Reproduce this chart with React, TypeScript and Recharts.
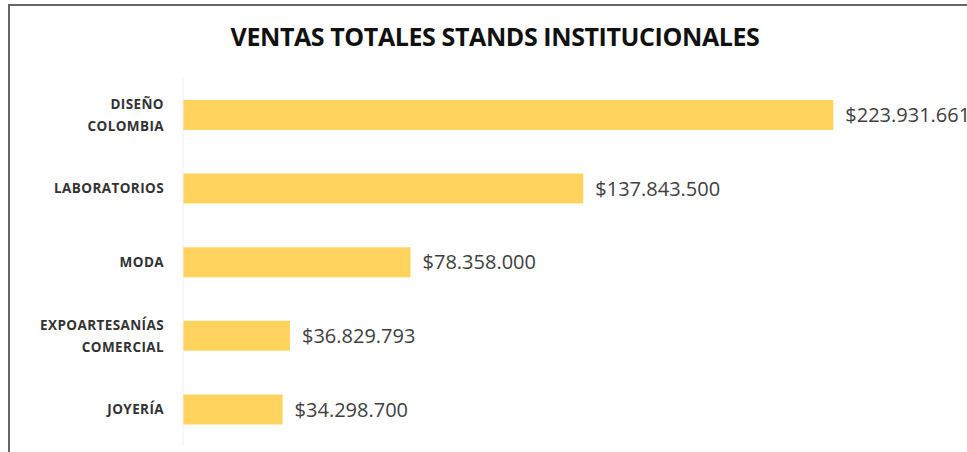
import React from 'react';
import { BarChart, Bar, XAxis, YAxis, LabelList } from 'recharts';

const categories: string[][] = [
  ['DISEÑO', 'COLOMBIA'],
  ['LABORATORIOS'],
  ['MODA'],
  ['EXPOARTESANÍAS', 'COMERCIAL'],
  ['JOYERÍA'],
];
const ventas: number[] = [223931661, 137843500, 78358000, 36829793, 34298700];

const data = categories.map((c, i) => ({ name: c.join('\n'), ventas: ventas[i] }));

const fmt = (v: number) => '$' + v.toLocaleString('de-DE');

const CategoryTick = (props: any) => {
  const { x, y, payload } = props;
  const lines = String(payload.value).split('\n');
  const lh = 22;
  const start = y - ((lines.length - 1) * lh) / 2;
  return (
    <g>
      {lines.map((l, i) => (
        <text
          key={i}
          x={x - 11}
          y={start + i * lh}
          dy={5}
          textAnchor="end"
          fontFamily="Open Sans"
          fontWeight={700}
          fontSize={13.5}
          letterSpacing={0.4}
          fill="#333"
        >
          {l}
        </text>
      ))}
    </g>
  );
};

const App: React.FC = () => {
  return (
    <div style={{ position: 'absolute', left: 0, top: 0, width: 967, height: 452, overflow: 'hidden', background: '#fff' }}>
      <div
        style={{
          position: 'absolute',
          left: 8,
          top: 4,
          width: 1000,
          height: 500,
          borderLeft: '2px solid #666',
          borderTop: '2px solid #666',
        }}
      />
      <div
        style={{
          position: 'absolute',
          left: 0,
          top: 19,
          width: 990,
          textAlign: 'center',
          fontFamily: 'Open Sans',
          fontWeight: 700,
          fontSize: 25,
          letterSpacing: -0.4,
          color: '#111',
        }}
      >
        VENTAS TOTALES STANDS INSTITUCIONALES
      </div>
      <div style={{ position: 'absolute', left: 0, top: 0 }}>
        <BarChart
          width={967}
          height={452}
          layout="vertical"
          data={data}
          margin={{ top: 78, right: 58, bottom: 6, left: 0 }}
        >
          <XAxis type="number" domain={[0, 250000000]} hide />
          <YAxis
            type="category"
            dataKey="name"
            width={183}
            tickLine={false}
            axisLine={{ stroke: '#eef0f5' }}
            tick={<CategoryTick />}
            interval={0}
          />
          <Bar dataKey="ventas" fill="#FFD35E" barSize={30} isAnimationActive={false}>
            <LabelList
              dataKey="ventas"
              position="right"
              offset={12}
              formatter={(v: any) => fmt(Number(v))}
              style={{ fontFamily: 'Open Sans', fontSize: 20, fill: '#404040' }}
            />
          </Bar>
        </BarChart>
      </div>
    </div>
  );
};

export default App;
